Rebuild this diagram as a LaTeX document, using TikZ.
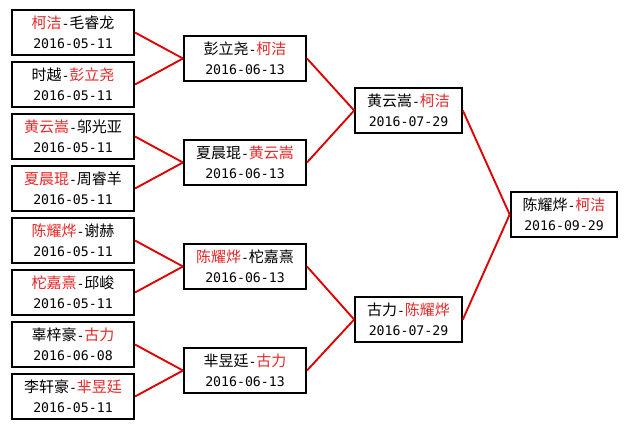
\documentclass[tikz,border=0pt]{standalone}
\usepackage{fontspec}
\usetikzlibrary{positioning}
\newfontfamily\cjk{Noto Sans CJK SC}
\newfontfamily\datefont{DejaVu Sans Mono}
\definecolor{winner}{RGB}{232,40,40}
\definecolor{linkred}{RGB}{222,0,0}
\newcommand{\win}[1]{\textcolor{winner}{#1}}
\newcommand{\hy}{{\datefont\fontsize{9.9}{15}\selectfont -}}
\newcommand{\dt}[1]{{\datefont\fontsize{9.9}{15}\selectfont #1}}

\begin{document}
\begin{tikzpicture}[x=0.75pt, y=-0.75pt,
  match/.style={draw=black, line width=1.5pt, fill=white, minimum width=91.5pt,
                minimum height=33.75pt, inner sep=0pt, align=center,
                font=\cjk\fontsize{11.25}{15}\selectfont},
  narrow/.style={match, minimum width=80pt},
  link/.style={draw=linkred, line width=1.4pt}]

\useasboundingbox (0,0) rectangle (627,429);

% Round 1
\node[match] (r1) at (73,32.5)  {\win{柯洁}\hy 毛睿龙\\\dt{2016-05-11}};
\node[match] (r2) at (73,84.5)  {时越\hy\win{彭立尧}\\\dt{2016-05-11}};
\node[match] (r3) at (73,136.5) {\win{黄云嵩}\hy 邬光亚\\\dt{2016-05-11}};
\node[match] (r4) at (73,188.5) {\win{夏晨琨}\hy 周睿羊\\\dt{2016-05-11}};
\node[match] (r5) at (73,240.5) {\win{陈耀烨}\hy 谢赫\\\dt{2016-05-11}};
\node[match] (r6) at (73,292.5) {\win{柁嘉熹}\hy 邱峻\\\dt{2016-05-11}};
\node[match] (r7) at (73,344.5) {辜梓豪\hy\win{古力}\\\dt{2016-06-08}};
\node[match] (r8) at (73,396.5) {李轩豪\hy\win{芈昱廷}\\\dt{2016-05-11}};

% Quarter finals
\node[match] (q1) at (245,58.5)  {彭立尧\hy\win{柯洁}\\\dt{2016-06-13}};
\node[match] (q2) at (245,162.5) {夏晨琨\hy\win{黄云嵩}\\\dt{2016-06-13}};
\node[match] (q3) at (245,266.5) {\win{陈耀烨}\hy 柁嘉熹\\\dt{2016-06-13}};
\node[match] (q4) at (245,370.5) {芈昱廷\hy\win{古力}\\\dt{2016-06-13}};

% Semi finals
\node[narrow] (s1) at (408.5,110.5) {黄云嵩\hy\win{柯洁}\\\dt{2016-07-29}};
\node[narrow] (s2) at (408.5,319.5) {古力\hy\win{陈耀烨}\\\dt{2016-07-29}};

% Final
\node[narrow] (f) at (564,214.5) {陈耀烨\hy\win{柯洁}\\\dt{2016-09-29}};

% Connectors
\foreach \a/\b in {r1/q1, r2/q1, r3/q2, r4/q2, r5/q3, r6/q3, r7/q4, r8/q4,
                   q1/s1, q2/s1, q3/s2, q4/s2, s1/f, s2/f}
  \draw[link] (\a.east) -- (\b.west);

\end{tikzpicture}
\end{document}
